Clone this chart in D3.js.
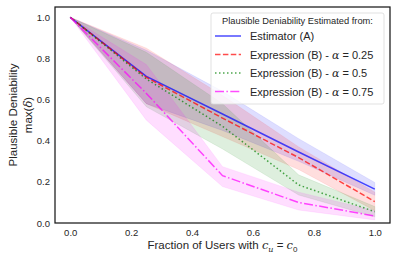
<!DOCTYPE html>
<html>
<head>
<meta charset="utf-8">
<script src="https://cdn.jsdelivr.net/npm/d3@7"></script>
<style>
  body { margin: 0; background: #fff; }
  svg { font-family: "Liberation Sans", Arial, sans-serif; }
</style>
</head>
<body>
<svg id="chart"></svg>
<script>
// fraction of users with c_u = c_0
const fractions = [0, 0.25, 0.5, 0.75, 1.0]

const estimatorA = [1.0, 0.713, 0.53, 0.345, 0.165]
const estimatorA_lo = [1.0, 0.58, 0.45, 0.30, 0.135]
const estimatorA_hi = [1.0, 0.84, 0.64, 0.41, 0.197]

const exprB025 = [1.0, 0.708, 0.51, 0.318, 0.104]
const exprB025_lo = [1.0, 0.58, 0.42, 0.26, 0.06]
const exprB025_hi = [1.0, 0.85, 0.62, 0.37, 0.15]

const exprB05 = [1.0, 0.70, 0.47, 0.185, 0.055]
const exprB05_lo = [1.0, 0.565, 0.36, 0.136, 0.03]
const exprB05_hi = [1.0, 0.83, 0.58, 0.234, 0.08]

const exprB075 = [1.0, 0.63, 0.23, 0.10, 0.034]
const exprB075_lo = [1.0, 0.50, 0.177, 0.063, 0.015]
const exprB075_hi = [1.0, 0.77, 0.274, 0.15, 0.06]

const xTicks = [0, 0.2, 0.4, 0.6, 0.8, 1.0]
const yTicks = [0, 0.2, 0.4, 0.6, 0.8, 1.0]

const series = [
    {label: 'Estimator (A)', y: estimatorA, lo: estimatorA_lo, hi: estimatorA_hi, color: '#0000ff', dash: null},
    {label: 'Expression (B) - \u03b1 = 0.25', y: exprB025, lo: exprB025_lo, hi: exprB025_hi, color: '#ff0000', dash: '5.5,2.4'},
    {label: 'Expression (B) - \u03b1 = 0.5', y: exprB05, lo: exprB05_lo, hi: exprB05_hi, color: '#008000', dash: '1.5,2.5'},
    {label: 'Expression (B) - \u03b1 = 0.75', y: exprB075, lo: exprB075_lo, hi: exprB075_hi, color: '#ff00ff', dash: '9,2.4,1.5,2.4'},
]

const width = 397, height = 263
const marginTop = 7, marginRight = 7, marginBottom = 40, marginLeft = 55

const svg = d3.select('#chart')
              .attr('width', width)
              .attr('height', height)
              .attr('viewBox', [0, 0, width, height])

const xScale = d3.scaleLinear([-0.05, 1.05], [marginLeft, width - marginRight])
const yScale = d3.scaleLinear([0, 1.05], [height - marginBottom, marginTop])

const area = d3.area()
               .x((d, i) => xScale(fractions[i]))
               .y0(d => yScale(d[0]))
               .y1(d => yScale(d[1]))
const line = d3.line()
               .x((d, i) => xScale(fractions[i]))
               .y(d => yScale(d))

// shaded bands
svg.append('g')
   .selectAll('path')
   .data(series)
   .join('path')
     .attr('d', s => area(s.lo.map((l, i) => [l, s.hi[i]])))
     .attr('fill', s => s.color)
     .attr('fill-opacity', 0.13)
     .attr('stroke', s => s.color)
     .attr('stroke-opacity', 0.08)

// lines
svg.append('g')
   .attr('fill', 'none')
   .attr('stroke-width', 1.5)
   .selectAll('path')
   .data(series)
   .join('path')
     .attr('d', s => line(s.y))
     .attr('stroke', s => s.color)
     .attr('stroke-opacity', 0.7)
     .attr('stroke-dasharray', s => s.dash)

// axes (no tick marks, seaborn white style)
const xAxis = d3.axisBottom(xScale).tickValues(xTicks).tickFormat(d3.format('.1f')).tickSize(0).tickPadding(6)
const yAxis = d3.axisLeft(yScale).tickValues(yTicks).tickFormat(d3.format('.1f')).tickSize(0).tickPadding(5)

svg.append('g')
   .attr('transform', `translate(0,${height - marginBottom})`)
   .call(xAxis)
   .call(g => g.select('.domain').remove())
   .call(g => g.selectAll('text').attr('font-size', 9.5).attr('fill', '#262626').attr('font-family', null))
svg.append('g')
   .attr('transform', `translate(${marginLeft},0)`)
   .call(yAxis)
   .call(g => g.select('.domain').remove())
   .call(g => g.selectAll('text').attr('font-size', 9.5).attr('fill', '#262626').attr('font-family', null))

// frame
svg.append('rect')
   .attr('x', marginLeft)
   .attr('y', marginTop)
   .attr('width', width - marginLeft - marginRight)
   .attr('height', height - marginTop - marginBottom)
   .attr('fill', 'none')
   .attr('stroke', '#1a1a1a')
   .attr('stroke-width', 1.25)

// axis labels
const xl = svg.append('text')
   .attr('x', (marginLeft + width - marginRight) / 2)
   .attr('y', 249)
   .attr('text-anchor', 'middle')
   .attr('font-size', 11.5)
   .attr('fill', '#262626')
xl.append('tspan').text('Fraction of Users with ')
xl.append('tspan').attr('font-style', 'italic').attr('font-family', 'DejaVu Serif').text('c')
xl.append('tspan').attr('font-style', 'italic').attr('font-family', 'DejaVu Serif').attr('font-size', 8).attr('dy', 3).text('u')
xl.append('tspan').attr('dy', -3).text(' = ')
xl.append('tspan').attr('font-style', 'italic').attr('font-family', 'DejaVu Serif').text('c')
xl.append('tspan').attr('font-size', 8).attr('dy', 3).text('0')

const yl = svg.append('text')
   .attr('transform', 'translate(17,115) rotate(-90)')
   .attr('text-anchor', 'middle')
   .attr('font-size', 11.5)
   .attr('fill', '#262626')
yl.append('tspan').attr('x', 0).attr('y', 0).text('Plausible Deniability')
const yl2 = yl.append('tspan').attr('x', 0).attr('y', 15)
yl2.append('tspan').text('max(')
yl2.append('tspan').attr('font-style', 'italic').attr('font-family', 'DejaVu Serif').text('\u03b4')
yl2.append('tspan').text(')')

// legend
const legend = svg.append('g').attr('transform', 'translate(211,13)')
legend.append('rect')
   .attr('width', 173)
   .attr('height', 91)
   .attr('rx', 2)
   .attr('fill', '#fff')
   .attr('fill-opacity', 0.8)
   .attr('stroke', '#d9d9d9')
   .attr('stroke-width', 0.8)
legend.append('text')
   .attr('x', 86.5)
   .attr('y', 11)
   .attr('text-anchor', 'middle')
   .attr('font-size', 9.3)
   .attr('fill', '#262626')
   .text('Plausible Deniability Estimated from:')
const item = legend.selectAll('g.item')
   .data(series)
   .join('g')
     .attr('class', 'item')
     .attr('transform', (s, i) => `translate(0,${23 + i * 18.5})`)
item.append('line')
    .attr('x1', 4).attr('x2', 30)
    .attr('stroke', s => s.color)
    .attr('stroke-opacity', 0.7)
    .attr('stroke-width', 1.5)
    .attr('stroke-dasharray', s => s.dash)
item.append('text')
    .attr('x', 39)
    .attr('y', 4)
    .attr('font-size', 11)
    .attr('fill', '#262626')
    .each(function(s) {
        const t = d3.select(this)
        const m = s.label.match(/^(.*)\u03b1 = (.*)$/)
        if (!m) { t.text(s.label); return }
        t.append('tspan').text(m[1])
        t.append('tspan').attr('font-style', 'italic').attr('font-family', 'DejaVu Serif').text('\u03b1')
        t.append('tspan').text(' = ' + m[2])
    })
</script>
</body>
</html>
